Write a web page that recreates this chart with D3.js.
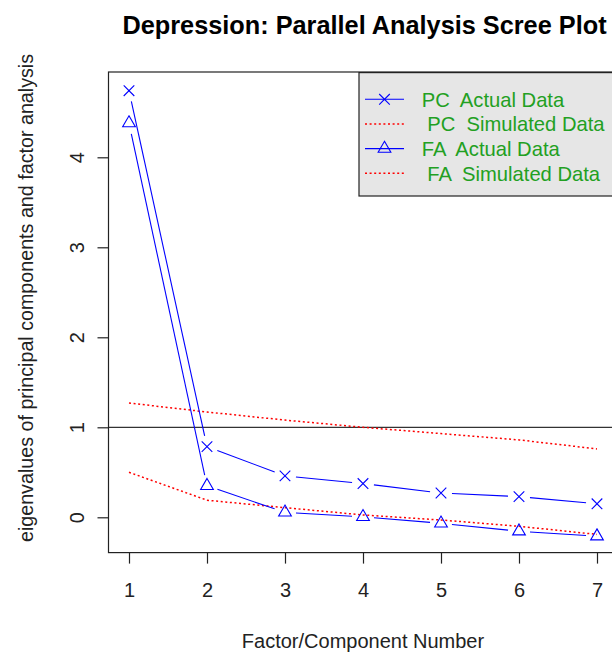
<!DOCTYPE html>
<html><head><meta charset="utf-8">
<script src="https://cdn.jsdelivr.net/npm/d3@7"></script>
<style>
html,body{margin:0;padding:0;background:#fff;}
svg{display:block;}
text{font-family:"Liberation Sans",Arial,sans-serif;}
</style></head>
<body>
<svg id="chart" width="612" height="652"></svg>
<script>
// ---- data ----
const factors = [1, 2, 3, 4, 5, 6, 7];
const pcActual = [4.74, 0.785, 0.46, 0.375, 0.27, 0.23, 0.15];
const pcSimulated = [1.27, 1.17, 1.08, 1.0, 0.93, 0.86, 0.76];
const faActual = [4.38, 0.35, 0.055, 0.005, -0.067, -0.155, -0.21];
const faSimulated = [0.50, 0.19, 0.107, 0.026, -0.03, -0.10, -0.19];
const xTicks = [1, 2, 3, 4, 5, 6, 7];
const yTicks = [0, 1, 2, 3, 4];
const legendLabels = ["PC  Actual Data", " PC  Simulated Data", "FA  Actual Data", " FA  Simulated Data"];
const titleText = "Depression: Parallel Analysis Scree Plot";
const xLabel = "Factor/Component Number";
const yLabel = "eigenvalues of principal components and factor analysis";

// ---- layout ----
const plot = {left: 108.5, top: 72, right: 615.7, bottom: 552.6};
const svg = d3.select("#chart");

const x = d3.scaleLinear().domain([1, 7]).range([129, 597]);
const y = d3.scaleLinear().domain([0, 4]).range([517.3, 157.3]);

// clip for plot region
svg.append("defs").append("clipPath").attr("id", "clip")
  .append("rect").attr("x", plot.left).attr("y", plot.top)
  .attr("width", plot.right - plot.left).attr("height", plot.bottom - plot.top);

const g = svg.append("g").attr("clip-path", "url(#clip)");

// reference line at 1
g.append("line")
  .attr("x1", plot.left).attr("x2", plot.right)
  .attr("y1", y(1)).attr("y2", y(1))
  .attr("stroke", "#000").attr("stroke-width", 1);

// simulated (dotted red)
const lineGen = d3.line().x((d, i) => x(factors[i])).y(d => y(d));
[pcSimulated, faSimulated].forEach(arr => {
  g.append("path").attr("d", lineGen(arr))
    .attr("fill", "none").attr("stroke", "#ff0000").attr("stroke-width", 1.5)
    .attr("stroke-dasharray", "2,2.6");
});

// actual data: type "b" lines with gaps
const gap = 11;
function gappedSegments(arr) {
  const segs = [];
  for (let i = 0; i < arr.length - 1; i++) {
    const x0 = x(factors[i]), y0 = y(arr[i]), x1 = x(factors[i + 1]), y1 = y(arr[i + 1]);
    const dx = x1 - x0, dy = y1 - y0, L = Math.hypot(dx, dy);
    if (L <= 2 * gap) continue;
    const ux = dx / L, uy = dy / L;
    segs.push([x0 + ux * gap, y0 + uy * gap, x1 - ux * gap, y1 - uy * gap]);
  }
  return segs;
}
[pcActual, faActual].forEach(arr => {
  g.selectAll(null).data(gappedSegments(arr)).enter().append("line")
    .attr("x1", d => d[0]).attr("y1", d => d[1]).attr("x2", d => d[2]).attr("y2", d => d[3])
    .attr("stroke", "blue").attr("stroke-width", 1.1);
});

// markers
const xs = 5.3;
function crossPath(cx, cy) {
  return `M${cx - xs},${cy - xs}L${cx + xs},${cy + xs}M${cx - xs},${cy + xs}L${cx + xs},${cy - xs}`;
}
const tr = 7.33, th = 6.35;
function triPath(cx, cy) {
  return `M${cx},${cy - tr}L${cx + th},${cy + tr / 2}L${cx - th},${cy + tr / 2}Z`;
}
g.selectAll(null).data(pcActual).enter().append("path")
  .attr("d", (d, i) => crossPath(x(factors[i]), y(d)))
  .attr("stroke", "blue").attr("stroke-width", 1.1).attr("fill", "none");
g.selectAll(null).data(faActual).enter().append("path")
  .attr("d", (d, i) => triPath(x(factors[i]), y(d)))
  .attr("stroke", "blue").attr("stroke-width", 1.1).attr("fill", "none");

// box
svg.append("rect").attr("x", plot.left).attr("y", plot.top)
  .attr("width", plot.right - plot.left).attr("height", plot.bottom - plot.top)
  .attr("fill", "none").attr("stroke", "#222").attr("stroke-width", 1.2);

// axes
const xAxis = svg.append("g").attr("transform", `translate(0,${plot.bottom})`)
  .call(d3.axisBottom(x).tickValues(xTicks).tickFormat(d3.format("d")).tickSize(11).tickPadding(0));
xAxis.select(".domain").remove();
xAxis.selectAll("line").attr("stroke", "#222").attr("stroke-width", 1.2);
xAxis.selectAll("text").attr("y", 0).attr("dy", null)
  .attr("transform", "translate(0,44)")
  .style("font-size", "20px").attr("fill", "#222");

const yAxis = svg.append("g").attr("transform", `translate(${plot.left},0)`)
  .call(d3.axisLeft(y).tickValues(yTicks).tickFormat(d3.format("d")).tickSize(11));
yAxis.select(".domain").remove();
yAxis.selectAll("line").attr("stroke", "#222").attr("stroke-width", 1.2);
yAxis.selectAll(".tick text")
  .attr("x", null).attr("dy", null)
  .attr("text-anchor", "middle")
  .attr("transform", "translate(-24.5,0) rotate(-90)")
  .style("font-size", "20px").attr("fill", "#222");

// titles
svg.append("text").attr("x", 364.5).attr("y", 34).attr("text-anchor", "middle")
  .style("font-size", "25.3px").style("font-weight", "bold").attr("fill", "#000").text(titleText);
svg.append("text").attr("x", 363).attr("y", 648).attr("text-anchor", "middle")
  .style("font-size", "20px").attr("fill", "#222").text(xLabel);
svg.append("text").attr("transform", `translate(33,298) rotate(-90)`).attr("text-anchor", "middle")
  .style("font-size", "19.7px").attr("fill", "#222").text(yLabel);

// legend
const leg = svg.append("g");
leg.append("rect").attr("x", 359).attr("y", 72.6).attr("width", plot.right - 359).attr("height", 196 - 72.6)
  .attr("fill", "#e6e6e6").attr("stroke", "#222").attr("stroke-width", 1.2);
const rowY = d3.scaleLinear().domain([0, 3]).range([99.3, 173.3]);
const legStyles = [
  {color: "blue", dash: null, marker: "x"},
  {color: "#ff0000", dash: "2,2.6", marker: null},
  {color: "blue", dash: null, marker: "tri"},
  {color: "#ff0000", dash: "2,2.6", marker: null}
];
legendLabels.forEach((lab, i) => {
  const cy = rowY(i), st = legStyles[i];
  leg.append("line").attr("x1", 365).attr("x2", 404).attr("y1", cy).attr("y2", cy)
    .attr("stroke", st.color).attr("stroke-width", st.dash ? 1.5 : 1.1)
    .attr("stroke-dasharray", st.dash);
  if (st.marker === "x") leg.append("path").attr("d", crossPath(384.5, cy)).attr("stroke", "blue").attr("stroke-width", 1.1);
  if (st.marker === "tri") leg.append("path").attr("d", triPath(384.5, cy)).attr("stroke", "blue").attr("stroke-width", 1.1).attr("fill", "none");
  leg.append("text").attr("x", 421.7).attr("y", cy + 7.5)
    .style("font-size", "20.2px").style("white-space", "pre").attr("xml:space", "preserve")
    .attr("fill", "#22a022").text(lab);
});
</script>
</body></html>
